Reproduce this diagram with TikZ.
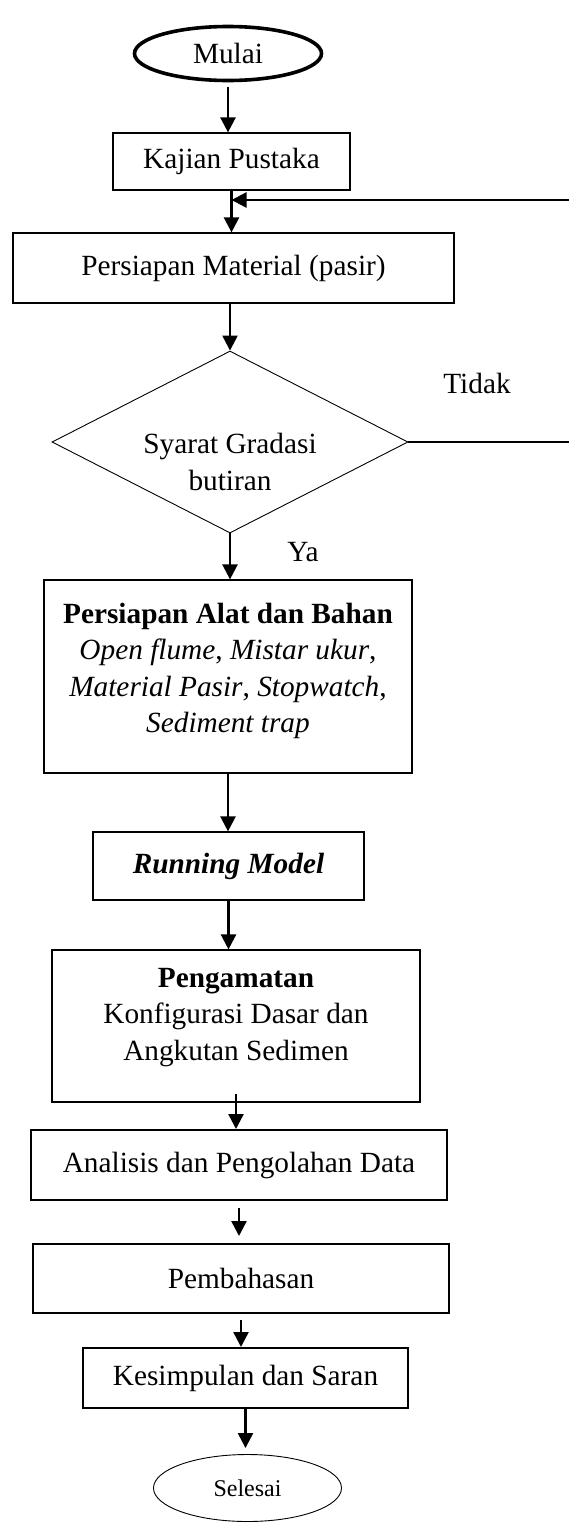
\documentclass[tikz,border=0pt]{standalone}
\usepackage{fontspec}
\setmainfont{Liberation Serif}
\usetikzlibrary{arrows.meta, shapes.geometric}

\begin{document}
\begin{tikzpicture}[
    x=1pt, y=-1pt,
    font=\fontsize{29.3}{36.5}\selectfont,
    box/.style={draw, line width=1.2pt, inner sep=0pt},
    heavybox/.style={draw, line width=2pt, inner sep=0pt},
    terminal/.style={draw, ellipse, inner sep=0pt},
    decision/.style={draw, diamond, line width=0.9pt, inner sep=0pt, aspect=1.96},
    txt/.style={align=center, inner sep=0pt},
    flow/.style={line width=2.4pt, -{Triangle[length=15pt, width=15pt]}}
]

\useasboundingbox (0,0) rectangle (569,1524);

% =========================
% NODES
% =========================
\node[terminal, line width=3.6pt, minimum width=187pt, minimum height=54pt]
    (mulai) at (228,53.5) {Mulai};
\node[box, minimum width=237pt, minimum height=57pt]
    (kajian) at (231.5,161.5) {Kajian Pustaka};
\node[box, minimum width=441pt, minimum height=70pt]
    (material) at (233.5,268) {Persiapan Material (pasir)};

% decision
\node[decision, minimum width=356pt, minimum height=182pt]
    (syarat) at (230,442) {};
\node[txt] (syarattext) at (230,462) {Syarat Gradasi\\butiran};

\node[box, minimum width=368pt, minimum height=193pt]
    (alat) at (228,676.5) {};
\node[txt] (alattext) at (228,671)
    {\textbf{Persiapan Alat dan Bahan}\\
     \textit{Open flume}, \textit{Mistar ukur},\\
     \textit{Material Pasir}, \textit{Stopwatch},\\
     \textit{Sediment trap}};

\node[box, minimum width=271pt, minimum height=68pt]
    (running) at (228.5,866) {\textbf{\textit{Running Model}}};

\node[box, minimum width=368pt, minimum height=152pt]
    (pengamatan) at (236,1026) {};
\node[txt] (pengamatantext) at (236,1017.5)
    {\textbf{Pengamatan}\\Konfigurasi Dasar dan\\Angkutan Sedimen};

\node[heavybox, minimum width=416pt, minimum height=70pt]
    (analisis) at (239,1165) {Analisis dan Pengolahan Data};
\node[heavybox, minimum width=416pt, minimum height=69pt]
    (pembahasan) at (241,1278.5) {Pembahasan};
\node[heavybox, minimum width=325pt, minimum height=60pt]
    (kesimpulan) at (245.5,1378) {Kesimpulan dan Saran};
\node[terminal, line width=0.9pt, minimum width=188pt, minimum height=67pt,
    font=\fontsize{24}{28}\selectfont]
    (selesai) at (247.5,1488) {Selesai};

% labels
\node (tidak) at (477,383) {Tidak};
\node (ya) at (303,552) {Ya};

% =========================
% ARROWS
% =========================
\draw[flow, shorten <=5pt] (mulai.south) -- (mulai.south |- kajian.north);
\draw[flow] (kajian.south) -- (kajian.south |- material.north);
\draw[flow] (material.south -| syarat.north) -- (syarat.north);
\draw[flow] (syarat.south) -- (syarat.south |- alat.north);
\draw[flow] (alat.south) -- (alat.south |- running.north);
\draw[flow] (running.south) -- (running.south |- pengamatan.north);
\draw[flow, shorten <=-9pt] (pengamatan.south) -- (pengamatan.south |- analisis.north);
\draw[flow, shorten <=7pt, shorten >=7pt] (analisis.south) -- (analisis.south |- pembahasan.north);
\draw[flow, shorten <=6pt] (pembahasan.south) -- (pembahasan.south |- kesimpulan.north);
\draw[flow, shorten >=6pt] (kesimpulan.south) -- (kesimpulan.south |- selesai.north);

% loop back (Tidak)
\coordinate (back) at (580,200);
\draw[line width=1.3pt] (syarat.east) -- (syarat.east -| back) -- (back);
\draw[flow] (back) -- (kajian.south |- back);
\end{tikzpicture}
\end{document}
